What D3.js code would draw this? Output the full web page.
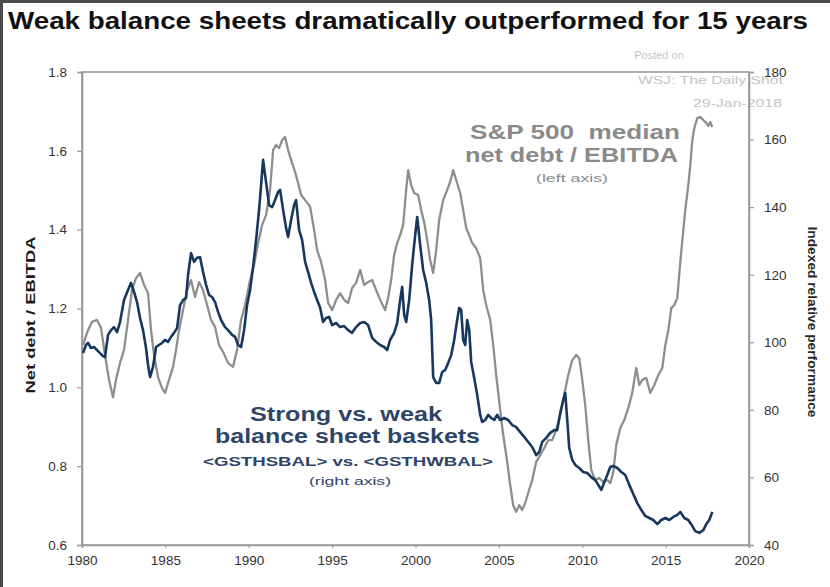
<!DOCTYPE html>
<html>
<head>
<meta charset="utf-8">
<script src="https://cdn.jsdelivr.net/npm/d3@7/dist/d3.min.js"></script>
<style>
  html, body { margin: 0; padding: 0; background: #fff; }
  svg { display: block; }
  text { font-family: "Liberation Sans", Arial, sans-serif; }
</style>
</head>
<body>
<svg id="chart" width="830" height="587"></svg>
<script>
// S&P 500 median net debt / EBITDA (left axis)
const debtYears = [1980.06,1980.36,1980.60,1980.90,1981.14,1981.38,1981.62,1981.86,1982.04,1982.28,1982.52,1982.76,1983.00,1983.24,1983.48,1983.72,1983.96,1984.14,1984.32,1984.56,1984.80,1984.98,1985.22,1985.46,1985.64,1985.82,1986.06,1986.30,1986.54,1986.78,1987.02,1987.26,1987.50,1987.74,1987.98,1988.22,1988.46,1988.76,1989.06,1989.30,1989.54,1989.78,1990.08,1990.32,1990.56,1990.80,1991.04,1991.28,1991.46,1991.64,1991.82,1992.00,1992.18,1992.36,1992.54,1992.78,1992.96,1993.14,1993.38,1993.68,1993.92,1994.10,1994.34,1994.58,1994.76,1995.00,1995.24,1995.48,1995.72,1995.96,1996.20,1996.44,1996.68,1996.92,1997.16,1997.40,1997.64,1997.88,1998.18,1998.36,1998.54,1998.72,1998.90,1999.08,1999.26,1999.44,1999.56,1999.74,1999.92,2000.16,2000.34,2000.52,2000.70,2000.88,2001.06,2001.24,2001.42,2001.66,2001.90,2002.08,2002.26,2002.44,2002.68,2002.86,2003.04,2003.22,2003.40,2003.64,2003.88,2004.06,2004.24,2004.48,2004.66,2004.84,2005.08,2005.26,2005.50,2005.68,2005.86,2006.04,2006.22,2006.40,2006.58,2006.76,2007.00,2007.24,2007.48,2007.72,2007.96,2008.20,2008.44,2008.68,2008.92,2009.16,2009.40,2009.64,2009.82,2010.00,2010.18,2010.36,2010.54,2010.78,2011.02,2011.26,2011.50,2011.68,2011.86,2012.04,2012.28,2012.52,2012.76,2013.00,2013.24,2013.42,2013.60,2013.84,2014.08,2014.32,2014.56,2014.80,2014.98,2015.16,2015.34,2015.52,2015.70,2015.88,2016.06,2016.18,2016.36,2016.48,2016.60,2016.72,2016.90,2017.08,2017.26,2017.44,2017.56,2017.68,2017.80];
const debtValues = [1.107,1.145,1.166,1.171,1.151,1.082,1.019,0.975,1.019,1.062,1.095,1.171,1.247,1.277,1.290,1.260,1.239,1.145,1.082,1.026,0.998,0.986,1.019,1.052,1.095,1.145,1.196,1.247,1.272,1.229,1.267,1.247,1.209,1.171,1.153,1.107,1.090,1.062,1.052,1.095,1.171,1.209,1.272,1.310,1.366,1.412,1.437,1.501,1.602,1.615,1.607,1.627,1.635,1.602,1.577,1.546,1.518,1.488,1.475,1.458,1.399,1.348,1.318,1.272,1.214,1.196,1.222,1.239,1.222,1.214,1.252,1.265,1.298,1.260,1.267,1.272,1.247,1.222,1.196,1.227,1.272,1.336,1.366,1.386,1.412,1.501,1.551,1.513,1.493,1.488,1.450,1.419,1.374,1.323,1.290,1.348,1.425,1.475,1.501,1.521,1.551,1.526,1.493,1.450,1.404,1.386,1.366,1.353,1.328,1.247,1.209,1.171,1.107,1.031,0.942,0.879,0.811,0.752,0.701,0.684,0.701,0.689,0.707,0.732,0.765,0.811,0.828,0.846,0.866,0.866,0.892,0.930,0.981,1.031,1.069,1.082,1.074,1.019,0.955,0.866,0.790,0.765,0.770,0.760,0.765,0.757,0.785,0.854,0.897,0.917,0.948,0.986,1.049,1.006,1.019,1.024,0.986,1.006,1.031,1.049,1.107,1.145,1.201,1.209,1.227,1.318,1.399,1.450,1.513,1.564,1.627,1.658,1.683,1.686,1.678,1.671,1.663,1.673,1.660];

// Strong vs. weak balance sheet baskets, indexed relative performance (right axis)
const perfYears = [1980.06,1980.24,1980.36,1980.54,1980.72,1980.90,1981.08,1981.26,1981.38,1981.56,1981.74,1981.92,1982.10,1982.28,1982.52,1982.76,1982.94,1983.12,1983.30,1983.48,1983.66,1983.84,1983.96,1984.08,1984.26,1984.44,1984.62,1984.80,1984.98,1985.16,1985.34,1985.52,1985.70,1985.88,1986.06,1986.24,1986.36,1986.54,1986.72,1986.90,1987.08,1987.26,1987.44,1987.62,1987.80,1987.98,1988.16,1988.34,1988.58,1988.76,1989.00,1989.18,1989.36,1989.54,1989.72,1989.90,1990.08,1990.26,1990.44,1990.62,1990.74,1990.86,1990.98,1991.10,1991.22,1991.40,1991.58,1991.76,1991.88,1992.06,1992.24,1992.36,1992.54,1992.72,1992.84,1993.02,1993.20,1993.38,1993.56,1993.74,1993.92,1994.10,1994.28,1994.46,1994.64,1994.82,1995.00,1995.24,1995.48,1995.72,1995.96,1996.20,1996.44,1996.68,1996.92,1997.16,1997.40,1997.64,1997.88,1998.12,1998.30,1998.48,1998.72,1998.90,1999.08,1999.20,1999.32,1999.44,1999.62,1999.80,1999.92,2000.10,2000.28,2000.46,2000.64,2000.82,2000.94,2001.06,2001.24,2001.42,2001.60,2001.78,2001.96,2002.14,2002.32,2002.50,2002.62,2002.74,2002.86,2002.98,2003.10,2003.22,2003.34,2003.52,2003.70,2003.88,2004.00,2004.18,2004.36,2004.54,2004.72,2004.90,2005.08,2005.32,2005.56,2005.80,2006.04,2006.28,2006.52,2006.76,2007.00,2007.24,2007.42,2007.60,2007.84,2008.08,2008.32,2008.50,2008.68,2008.86,2008.98,2009.10,2009.22,2009.40,2009.58,2009.82,2010.06,2010.30,2010.54,2010.78,2010.96,2011.14,2011.32,2011.50,2011.68,2011.86,2012.10,2012.34,2012.58,2012.82,2013.06,2013.30,2013.54,2013.78,2014.02,2014.26,2014.50,2014.74,2014.98,2015.22,2015.46,2015.70,2015.88,2016.12,2016.36,2016.60,2016.78,2017.02,2017.26,2017.44,2017.62,2017.80];
const perfValues = [96.8,99.2,99.8,98.3,98.6,97.7,96.8,95.9,95.6,102.2,103.6,104.5,103.0,106.0,112.5,115.5,117.6,114.9,111.9,107.2,103.6,98.3,93.3,89.7,92.7,98.6,99.2,99.8,100.7,100.1,101.6,102.8,104.2,111.0,112.5,113.1,119.9,126.4,123.8,125.0,125.2,120.8,117.0,114.0,113.4,111.9,109.0,106.6,104.5,103.6,102.2,101.6,99.2,98.6,103.6,111.0,115.5,122.3,130.3,139.2,146.6,154.0,149.5,145.1,140.6,140.0,142.1,144.5,145.1,139.2,133.8,131.2,136.2,140.6,142.1,133.2,130.3,123.8,120.8,117.6,114.9,112.5,110.2,106.0,107.2,107.5,105.1,105.7,104.5,104.8,103.6,102.8,104.5,105.7,106.0,105.1,101.3,100.1,99.2,98.6,97.7,100.7,102.8,105.7,112.5,116.4,108.1,106.0,112.5,122.9,128.8,137.1,128.8,121.4,117.6,112.5,106.6,89.7,88.0,88.0,91.2,91.8,93.9,96.2,100.7,106.6,110.2,109.6,100.7,99.2,106.6,103.6,94.2,89.4,84.4,78.5,76.4,77.0,78.5,77.6,77.0,78.5,77.0,77.6,77.0,75.5,74.9,73.4,72.0,70.5,69.0,66.6,67.5,70.5,71.7,73.2,74.0,74.0,79.1,82.9,85.0,77.0,68.7,65.2,63.7,62.8,61.6,61.3,60.1,59.2,57.8,56.3,58.6,60.7,63.1,63.4,62.8,61.6,60.7,57.8,55.1,52.4,50.4,48.6,48.0,47.4,46.2,47.4,48.0,47.4,48.3,48.9,49.8,48.0,47.4,45.6,44.1,43.6,44.4,46.2,47.4,49.8];

// Axis ticks
const yearTicks = [1980, 1985, 1990, 1995, 2000, 2005, 2010, 2015, 2020];
const debtTicks = [0.6, 0.8, 1.0, 1.2, 1.4, 1.6, 1.8];
const perfTicks = [40, 60, 80, 100, 120, 140, 160, 180];

const svg = d3.select("#chart");
const plot = { left: 82, right: 749, top: 72, bottom: 545 };

const x = d3.scaleLinear().domain([1980, 2020]).range([plot.left, plot.right]);
const yL = d3.scaleLinear().domain([0.6, 1.8]).range([plot.bottom, plot.top]);
const yR = d3.scaleLinear().domain([40, 180]).range([plot.bottom, plot.top]);

// Outer frame edges (left and top)
svg.append("line").attr("x1", 1.5).attr("x2", 1.5).attr("y1", 0).attr("y2", 587)
  .attr("stroke", "#4a4a4a").attr("stroke-width", 3);
svg.append("line").attr("x1", 0).attr("x2", 830).attr("y1", 1.5).attr("y2", 1.5)
  .attr("stroke", "#4a4a4a").attr("stroke-width", 3);

// Title
svg.append("text")
  .attr("x", 8).attr("y", 29)
  .attr("font-size", 23).attr("font-weight", "bold").attr("fill", "#111")
  .attr("textLength", 800).attr("lengthAdjust", "spacingAndGlyphs")
  .text("Weak balance sheets dramatically outperformed for 15 years");

// Source stamp
const stamp = svg.append("g").attr("fill", "#c4c4c4").attr("font-size", 11);
stamp.append("text").attr("x", 659).attr("y", 59).attr("text-anchor", "middle").text("Posted on");
stamp.append("text").attr("x", 638).attr("y", 84)
  .attr("textLength", 145).attr("lengthAdjust", "spacingAndGlyphs").text("WSJ: The Daily Shot");
stamp.append("text").attr("x", 693).attr("y", 107)
  .attr("textLength", 89).attr("lengthAdjust", "spacingAndGlyphs").text("29-Jan-2018");

// Plot frame
svg.append("rect")
  .attr("x", plot.left).attr("y", plot.top)
  .attr("width", plot.right - plot.left).attr("height", plot.bottom - plot.top)
  .attr("fill", "none").attr("stroke", "#9a9a9a").attr("stroke-width", 1.6);

function styleAxis(g) {
  g.select(".domain").attr("stroke", "#9a9a9a").attr("stroke-width", 1.6);
  g.selectAll(".tick line").attr("stroke", "#9a9a9a").attr("stroke-width", 1.2);
  g.selectAll(".tick text")
    .attr("font-family", "'Liberation Sans', Arial, sans-serif")
    .attr("font-size", 13.5).attr("fill", "#333");
}

// Left axis: net debt / EBITDA
svg.append("g")
  .attr("transform", `translate(${plot.left},0)`)
  .call(d3.axisLeft(yL).tickValues(debtTicks).tickFormat(d3.format(".1f")).tickSize(5).tickPadding(10))
  .call(styleAxis);

// Right axis: indexed relative performance
svg.append("g")
  .attr("transform", `translate(${plot.right},0)`)
  .call(d3.axisRight(yR).tickValues(perfTicks).tickFormat(d3.format("d")).tickSize(5).tickPadding(10))
  .call(styleAxis);

// Bottom axis: years
svg.append("g")
  .attr("transform", `translate(0,${plot.bottom})`)
  .call(d3.axisBottom(x).tickValues(yearTicks).tickFormat(d3.format("d")).tickSize(3).tickPadding(7))
  .call(styleAxis);

// Axis titles
svg.append("text")
  .attr("transform", "translate(35,315) rotate(-90)")
  .attr("text-anchor", "middle")
  .attr("font-size", 13).attr("font-weight", "bold").attr("fill", "#1a1a1a")
  .attr("textLength", 157).attr("lengthAdjust", "spacingAndGlyphs")
  .text("Net debt / EBITDA");
svg.append("text")
  .attr("transform", "translate(808,322) rotate(90)")
  .attr("text-anchor", "middle")
  .attr("font-size", 13).attr("font-weight", "bold").attr("fill", "#2a2a2a")
  .attr("textLength", 191).attr("lengthAdjust", "spacingAndGlyphs")
  .text("Indexed relative performance");

// Series lines
const debtLine = d3.line()
  .x((d, i) => x(debtYears[i]))
  .y(d => yL(d));
const perfLine = d3.line()
  .x((d, i) => x(perfYears[i]))
  .y(d => yR(d));

svg.append("path")
  .datum(debtValues)
  .attr("d", debtLine)
  .attr("fill", "none").attr("stroke", "#8e8e8e").attr("stroke-width", 2.3)
  .attr("stroke-linejoin", "round");

svg.append("path")
  .datum(perfValues)
  .attr("d", perfLine)
  .attr("fill", "none").attr("stroke", "#17375e").attr("stroke-width", 2.6)
  .attr("stroke-linejoin", "round");

// Series annotations
const spx = svg.append("g").attr("fill", "#8a8a8a").attr("font-weight", "bold");
spx.append("text").attr("x", 470).attr("y", 139).attr("font-size", 20)
  .attr("textLength", 210).attr("lengthAdjust", "spacingAndGlyphs")
  .attr("xml:space", "preserve").text("S&P 500  median");
spx.append("text").attr("x", 465).attr("y", 162).attr("font-size", 20)
  .attr("textLength", 213).attr("lengthAdjust", "spacingAndGlyphs").text("net debt / EBITDA");
spx.append("text").attr("x", 536).attr("y", 182).attr("font-size", 11.5)
  .attr("font-weight", "normal")
  .attr("textLength", 72).attr("lengthAdjust", "spacingAndGlyphs").text("(left axis)");

const bal = svg.append("g").attr("fill", "#2e4567").attr("font-weight", "bold");
bal.append("text").attr("x", 250).attr("y", 421).attr("font-size", 21)
  .attr("textLength", 192).attr("lengthAdjust", "spacingAndGlyphs").text("Strong vs. weak");
bal.append("text").attr("x", 215).attr("y", 443).attr("font-size", 21)
  .attr("textLength", 265).attr("lengthAdjust", "spacingAndGlyphs").text("balance sheet baskets");
bal.append("text").attr("x", 203).attr("y", 466).attr("font-size", 12.5)
  .attr("textLength", 290).attr("lengthAdjust", "spacingAndGlyphs").text("<GSTHSBAL> vs. <GSTHWBAL>");
bal.append("text").attr("x", 309).attr("y", 485).attr("font-size", 11.5)
  .attr("font-weight", "normal")
  .attr("textLength", 82).attr("lengthAdjust", "spacingAndGlyphs").text("(right axis)");
</script>
</body>
</html>
